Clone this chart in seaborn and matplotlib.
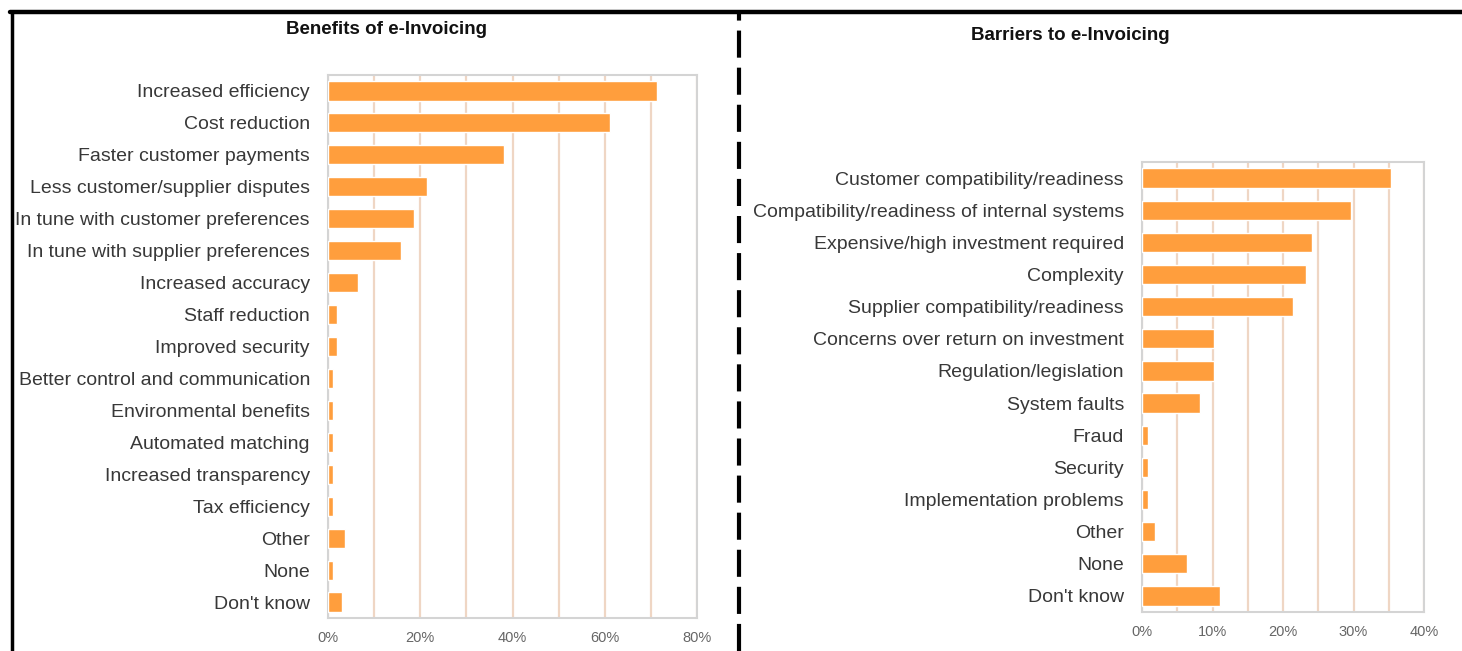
import matplotlib
matplotlib.use("Agg")
import matplotlib.pyplot as plt
from matplotlib.lines import Line2D
from matplotlib.ticker import MultipleLocator, PercentFormatter
import pandas as pd
import seaborn as sns

# benefits (left panel)
benefit_labels = [
    "Increased efficiency", "Cost reduction", "Faster customer payments",
    "Less customer/supplier disputes", "In tune with customer preferences",
    "In tune with supplier preferences", "Increased accuracy", "Staff reduction",
    "Improved security", "Better control and communication", "Environmental benefits",
    "Automated matching", "Increased transparency", "Tax efficiency", "Other",
    "None", "Don't know",
]
benefit_values = [71.3, 61.2, 38.2, 21.5, 18.7, 15.8, 6.5, 2.0, 2.0,
                  1.0, 1.0, 1.0, 1.0, 1.0, 3.7, 1.0, 3.0]

# barriers (right panel)
barrier_labels = [
    "Customer compatibility/readiness", "Compatibility/readiness of internal systems",
    "Expensive/high investment required", "Complexity",
    "Supplier compatibility/readiness", "Concerns over return on investment",
    "Regulation/legislation", "System faults", "Fraud", "Security",
    "Implementation problems", "Other", "None", "Don't know",
]
barrier_values = [35.3, 29.6, 24.1, 23.3, 21.4, 10.2, 10.2, 8.2,
                  0.9, 0.9, 0.9, 1.8, 6.4, 11.1]

bar_color = "#ff9e3d"
grid_color = "#efd6c4"
spine_color = "#d4d4d4"

sns.set_theme(style="white")
plt.rcParams["font.family"] = ["Liberation Sans", "DejaVu Sans"]

fig = plt.figure(figsize=(14.62, 6.51), dpi=100)
W, H = 1462, 651


def panel(rect, labels, values, xmax, major, minor):
    ax = fig.add_axes([rect[0] / W, 1 - rect[3] / H,
                       (rect[2] - rect[0]) / W, (rect[3] - rect[1]) / H])
    df = pd.DataFrame({"label": labels, "value": values})
    sns.barplot(data=df, x="value", y="label", orient="h", color=bar_color,
                width=0.6, saturation=1, ax=ax, zorder=3)
    ax.set_xlim(0, xmax)
    ax.xaxis.set_major_locator(MultipleLocator(major))
    ax.xaxis.set_minor_locator(MultipleLocator(minor))
    ax.xaxis.set_major_formatter(PercentFormatter(decimals=0))
    ax.grid(True, axis="x", which="both", color=grid_color, lw=1.6, zorder=0)
    ax.set_axisbelow(True)
    ax.set_xlabel("")
    ax.set_ylabel("")
    ax.tick_params(axis="x", which="both", length=0, pad=9, labelsize=10.5,
                   labelcolor="#666666")
    ax.tick_params(axis="y", length=0, pad=13, labelsize=14, labelcolor="#383838")
    for s in ax.spines.values():
        s.set_color(spine_color)
        s.set_linewidth(1.5)
    return ax


panel((328, 75, 697, 618), benefit_labels, benefit_values, 80, 20, 10)
panel((1142, 162, 1424, 612), barrier_labels, barrier_values, 40, 10, 5)

fig.text(386 / W, 1 - 30 / H, "Benefits of e-Invoicing", ha="center", va="center",
         fontsize=13.5, fontweight="bold", color="#111111")
fig.text(1070 / W, 1 - 35 / H, "Barriers to e-Invoicing", ha="center", va="center",
         fontsize=13.5, fontweight="bold", color="#111111")

# frame lines
fig.add_artist(Line2D([10 / W, 1], [1 - 12 / H, 1 - 12 / H], color="black", lw=3.2,
                      transform=fig.transFigure))
fig.add_artist(Line2D([11.5 / W, 11.5 / W], [0, 1 - 12 / H], color="black", lw=2.5,
                      transform=fig.transFigure))
fig.add_artist(Line2D([739 / W, 739 / W], [0, 1 - 12 / H], color="black", lw=3,
                      linestyle=(0, (6.5, 2.4)), transform=fig.transFigure))

fig.savefig("out.png", dpi=100)
